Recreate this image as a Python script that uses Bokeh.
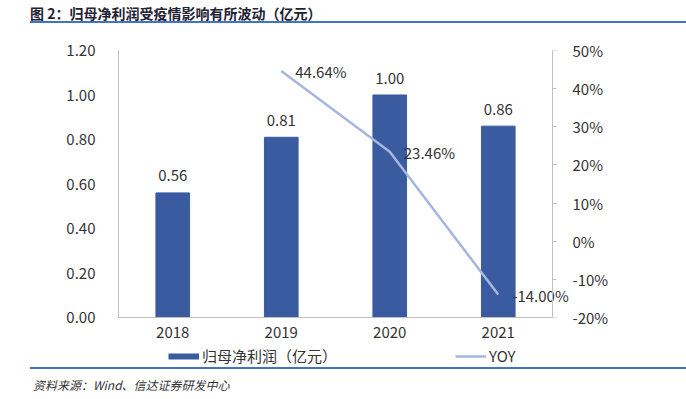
from bokeh.plotting import figure
from bokeh.models import (Range1d, LinearAxis, FixedTicker, PrintfTickFormatter, NumeralTickFormatter,
                          ColumnDataSource, Legend, LegendItem, Div)
from bokeh.layouts import column
from bokeh.embed import file_html
from bokeh.resources import INLINE
from bokeh.core.properties import value

# ---- data ----
years = ["2018", "2019", "2020", "2021"]
profit = [0.56, 0.81, 1.00, 0.86]
yoy_years = ["2019", "2020", "2021"]
yoy = [44.64, 23.46, -14.00]
left_ticks = [0, 0.2, 0.4, 0.6, 0.8, 1.0, 1.2]
right_ticks = [-20, -10, 0, 10, 20, 30, 40, 50]
title_text = "图 2：归母净利润受疫情影响有所波动（亿元）"
source_text = "资料来源：Wind、信达证券研发中心"
bar_name = "归母净利润（亿元）"
line_name = "YOY"

FONT = "Noto Sans CJK SC"
BAR = "#3A5BA0"
LINE = "#A6B6DF"
TXT = "#333333"
AX = "#BFBFBF"
BLUE = "#4472C4"

xpos = {y: i for i, y in enumerate(years)}
bar_x = [xpos[y] for y in years]
yoy_x = [xpos[y] for y in yoy_years]
edge = len(years) - 0.5

title_div = Div(width=686, height=25, margin=0, text=(
    '<div style="position:relative;width:686px;height:25px;">'
    f'<div style="position:absolute;left:30px;top:4px;white-space:nowrap;font-family:\'{FONT}\';'
    'font-weight:bold;font-size:14px;line-height:18px;color:#1F2233;">'
    f'{title_text}</div>'
    f'<div style="position:absolute;left:30px;width:656px;top:21px;height:2px;background:{BLUE};"></div>'
    '</div>'))

p = figure(frame_width=462, frame_height=267, x_range=Range1d(-0.5, 3.758), y_range=Range1d(0, 1.2),
           output_backend="svg", toolbar_location=None, margin=0,
           min_border_left=118, min_border_right=106, min_border_top=25, min_border_bottom=28)
p.outline_line_color = None
p.xgrid.visible = False
p.ygrid.visible = False
p.extra_y_ranges = {"yoy": Range1d(-20, 50)}

# left axis
ya = p.yaxis[0]
ya.ticker = FixedTicker(ticks=left_ticks)
ya.formatter = NumeralTickFormatter(format="0.00")
ya.major_tick_line_color = None
ya.minor_tick_line_color = None
ya.axis_line_color = AX
ya.major_label_text_font = FONT
ya.major_label_text_font_size = "15px"
ya.major_label_text_color = TXT
ya.major_label_standoff = 17

# right axis labels (at frame edge, pulled in with negative standoff)
ra = LinearAxis(y_range_name="yoy", ticker=FixedTicker(ticks=right_ticks),
                formatter=PrintfTickFormatter(format="%d%%"))
ra.axis_line_color = None
ra.major_tick_line_color = None
ra.minor_tick_line_color = None
ra.major_label_text_font = FONT
ra.major_label_text_font_size = "15px"
ra.major_label_text_color = TXT
ra.major_label_standoff = -14
p.add_layout(ra, "right")

# right axis line + ticks, drawn at the right edge of the category band
ra2 = LinearAxis(y_range_name="yoy", ticker=FixedTicker(ticks=right_ticks), fixed_location=edge,
                 major_label_overrides={t: "" for t in right_ticks})
ra2.major_tick_in = 0
ra2.major_tick_out = 4
ra2.major_tick_line_color = AX
ra2.minor_tick_line_color = None
ra2.axis_line_color = AX
ra2.major_label_standoff = 0
p.add_layout(ra2, "right")

# x axis (category axis)
xa = p.xaxis[0]
xa.ticker = FixedTicker(ticks=bar_x)
xa.major_label_overrides = {i: y for i, y in zip(bar_x, years)}
xa.bounds = (-0.5, edge)
xa.major_tick_line_color = None
xa.minor_tick_line_color = None
xa.axis_line_color = AX
xa.major_label_text_font = FONT
xa.major_label_text_font_size = "15px"
xa.major_label_text_color = TXT
xa.major_label_standoff = 3

# bars
src = ColumnDataSource(dict(x=bar_x, profit=profit, lbl=[f"{v:.2f}" for v in profit]))
p.vbar(x="x", top="profit", width=0.31, fill_color=BAR, line_color=BAR, source=src)
p.text(x="x", y="profit", text="lbl", source=src, text_align="center", text_baseline="middle",
       y_offset=-17, text_font=value(FONT), text_font_size="15px", text_color=TXT)

# line
src2 = ColumnDataSource(dict(x=yoy_x, yoy=yoy, lbl=[f"{v:.2f}%" for v in yoy]))
p.line(x="x", y="yoy", source=src2, y_range_name="yoy", line_color=LINE, line_width=2.5)
p.text(x="x", y="yoy", text="lbl", source=src2, y_range_name="yoy", text_align="left",
       text_baseline="middle", x_offset=14, y_offset=1, text_font=value(FONT),
       text_font_size="15px", text_color=TXT)

# legend strip (its own small figure so it is not clipped)
lg = figure(width=686, height=22, output_backend="svg", toolbar_location=None, margin=0,
            x_axis_type=None, y_axis_type=None, min_border=0,
            x_range=Range1d(0, 1), y_range=Range1d(0, 1))
lg.outline_line_color = None
nan = float("nan")
bar_sw = lg.line(x=[nan], y=[nan], line_color=BAR, line_width=6)
line_sw = lg.line(x=[nan], y=[nan], line_color=LINE, line_width=2.5)
leg = Legend(items=[LegendItem(label=bar_name, renderers=[bar_sw]),
                    LegendItem(label=line_name, renderers=[line_sw])],
             location=(50, 1), orientation="horizontal", padding=0, margin=0,
             border_line_color=None, background_fill_alpha=0, glyph_width=31, glyph_height=20,
             label_height=20, label_standoff=3, label_text_font=FONT, label_text_font_size="15px",
             label_text_color=TXT, spacing=118)
lg.add_layout(leg)

source_div = Div(width=686, height=32, margin=0, text=(
    '<div style="position:relative;width:686px;height:32px;">'
    f'<div style="position:absolute;left:30px;width:656px;top:0px;height:2px;background:{BLUE};"></div>'
    f'<div style="position:absolute;left:33px;top:10px;white-space:nowrap;font-family:\'{FONT}\';'
    f'font-style:italic;font-size:12px;line-height:16px;color:{TXT};">{source_text}</div>'
    '</div>'))

layout = column(title_div, p, lg, source_div, spacing=0)
open("out.html", "w").write(file_html(layout, INLINE))
